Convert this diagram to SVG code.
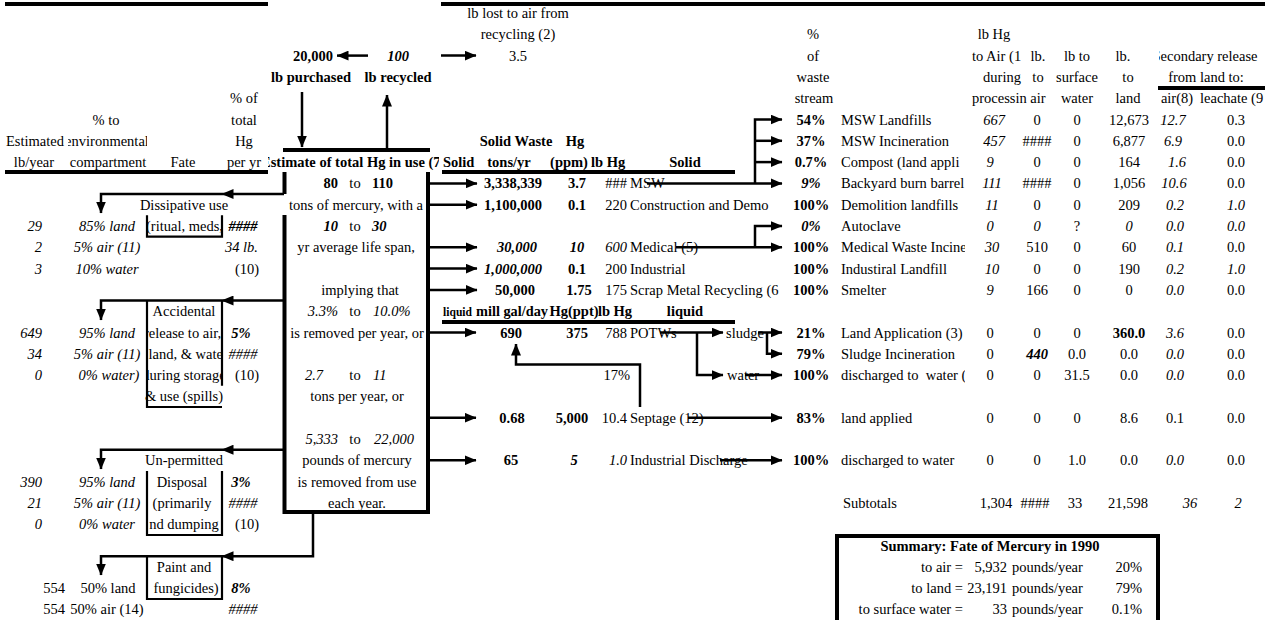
<svg xmlns="http://www.w3.org/2000/svg" width="1265" height="620" viewBox="0 0 1265 620">
<style>
text{font-family:"Liberation Serif","Times New Roman",serif;font-size:14.5px;fill:#000}
.b{font-weight:bold}
.i{font-style:italic}
.m{text-anchor:middle}
.e{text-anchor:end}
.rule{stroke:#000;stroke-width:4;fill:none}
.box{stroke:#000;stroke-width:2.2;fill:none}
.c{stroke:#000;stroke-width:2.5;fill:none}
.a{marker-end:url(#ah)}
</style>
<defs>
<marker id="ah" markerUnits="userSpaceOnUse" markerWidth="12" markerHeight="10" refX="11.5" refY="5" orient="auto"><path d="M0,0 L12,5 L0,10 z" fill="#000"/></marker>
<clipPath id="cpHdr"><rect x="268" y="150" width="171" height="22"/></clipPath>
<clipPath id="cpEnv"><rect x="68" y="130" width="79" height="22"/></clipPath>
<clipPath id="cpFate"><rect x="148" y="200" width="73.5" height="400"/></clipPath>
<clipPath id="cpName"><rect x="835" y="100" width="130" height="300"/></clipPath>
<clipPath id="cpSec"><rect x="1159" y="40" width="110" height="30"/></clipPath>
<clipPath id="cpScrap"><rect x="625" y="270" width="163" height="30"/></clipPath>
</defs>

<g id="rules">
<path class="rule" d="M5,4 H268 M441,4 H1265 M283,150 H430 M5,172 H268 M442,172 H735 M442,322 H735 M1158,88 H1265"/>
</g>

<g id="left-headers">
<text class="m" x="244" y="103.2">% of</text>
<text class="m" x="106" y="124.5">% to</text>
<text class="m" x="244" y="124.5">total</text>
<text class="m" x="35" y="145.8">Estimated</text>
<text class="m" x="107" y="145.8" clip-path="url(#cpEnv)">environmental</text>
<text class="m" x="244" y="145.8">Hg</text>
<text class="m" x="34" y="167.1">lb/year</text>
<text class="m" x="108" y="167.1">compartment</text>
<text class="m" x="183" y="167.1">Fate</text>
<text class="m" x="244" y="167.1">per yr</text>
</g>

<g id="fate-dissipative">
<path class="box" d="M147,215.3 V236.6 H222 V215.3"/>
<text class="m" x="184" y="209.7">Dissipative use</text>
<text x="146" y="231" clip-path="url(#cpFate)">(ritual, meds,</text>
<text class="e i" x="42" y="231">29</text>
<text class="m i" x="107" y="231">85% land</text>
<text class="m b i" x="243" y="231">####</text>
<text class="e i" x="42" y="252.3">2</text>
<text class="m i" x="107" y="252.3">5% air (11)</text>
<text class="e i" x="258" y="252.3">34 lb.</text>
<text class="e i" x="42" y="273.6">3</text>
<text class="m i" x="107" y="273.6">10% water</text>
<text class="m" x="247" y="273.6">(10)</text>
</g>

<g id="fate-accidental">
<path class="box" d="M147,300.5 V407 H222 M222,300.5 V385.8"/>
<text class="m" x="184" y="316.2">Accidental</text>
<text class="e i" x="42" y="337.5">649</text>
<text class="m i" x="107" y="337.5">95% land</text>
<text x="144" y="337.5" clip-path="url(#cpFate)">release to air,</text>
<text class="m b i" x="241" y="337.5">5%</text>
<text class="e i" x="42" y="358.8">34</text>
<text class="m i" x="107" y="358.8">5% air (11)</text>
<text x="148.5" y="358.8" clip-path="url(#cpFate)">land, &amp; water</text>
<text class="m i" x="243" y="358.8">####</text>
<text class="e i" x="42" y="380.1">0</text>
<text class="m i" x="109" y="380.1">0% water)</text>
<text class="m" x="184" y="380.1" clip-path="url(#cpFate)">during storage</text>
<text class="m" x="247" y="380.1">(10)</text>
<text class="m" x="184" y="401.4">&amp; use (spills)</text>
</g>

<g id="fate-unpermitted">
<path class="box" d="M147,471 V535 H222 V471"/>
<text class="m" x="184" y="465.3">Un-permitted</text>
<text class="e i" x="42" y="486.6">390</text>
<text class="m i" x="107" y="486.6">95% land</text>
<text class="m" x="182" y="486.6">Disposal</text>
<text class="m b i" x="241" y="486.6">3%</text>
<text class="e i" x="42" y="507.9">21</text>
<text class="m i" x="107" y="507.9">5% air (11)</text>
<text class="m" x="182" y="507.9">(primarily</text>
<text class="m i" x="243" y="507.9">####</text>
<text class="e i" x="42" y="529.2">0</text>
<text class="m i" x="107" y="529.2">0% water</text>
<text class="m" x="184" y="529.2">nd dumping</text>
<text class="m" x="247" y="529.2">(10)</text>
</g>

<g id="fate-paint">
<path class="box" d="M147,556.2 V599 H222 V556.2"/>
<text class="m" x="184" y="571.8">Paint and</text>
<text class="e" x="65" y="593.1">554</text>
<text class="m" x="108" y="593.1">50% land</text>
<text class="m" x="186" y="593.1">fungicides)</text>
<text class="m b i" x="241" y="593.1">8%</text>
<text class="e" x="65" y="614.4">554</text>
<text class="m" x="107" y="614.4">50% air (14)</text>
<text class="m i" x="243" y="614.4">####</text>
</g>

<g id="hg-in-use">
<path class="rule" d="M284.5,172 V194 M284.5,215 V512 H428 V172"/>
<text class="b" x="261" y="167.1" clip-path="url(#cpHdr)">Estimate of total Hg in use (7</text>
<text class="b e" x="338" y="188.4">80</text><text class="m" x="355" y="188.4">to</text><text class="b" x="372" y="188.4">110</text>
<text class="m" x="356" y="209.7">tons of mercury, with a</text>
<text class="b i e" x="338" y="231">10</text><text class="m" x="355" y="231">to</text><text class="b i" x="372" y="231">30</text>
<text class="m" x="356" y="252.3">yr average life span,</text>
<text class="m" x="360" y="294.9">implying that</text>
<text class="i e" x="338" y="316.2">3.3%</text><text class="m" x="355" y="316.2">to</text><text class="i" x="373" y="316.2">10.0%</text>
<text class="m" x="357" y="337.5">is removed per year, or</text>
<text class="i e" x="323" y="380.1">2.7</text><text class="m" x="355" y="380.1">to</text><text class="i" x="373" y="380.1">11</text>
<text class="m" x="357" y="401.4">tons per year, or</text>
<text class="i e" x="338" y="444">5,333</text><text class="m" x="355" y="444">to</text><text class="i" x="374" y="444">22,000</text>
<text class="m" x="357" y="465.3">pounds of mercury</text>
<text class="m" x="357" y="486.6">is removed from use</text>
<text class="m" x="357" y="507.9">each year.</text>
</g>

<g id="purchase-recycle">
<text class="b m" x="313" y="60.6">20,000</text>
<text class="b i m" x="398" y="60.6">100</text>
<text class="b m" x="311" y="81.9">lb purchased</text>
<text class="b m" x="398" y="81.9">lb recycled</text>
<text class="m" x="518" y="18">lb lost to air from</text>
<text class="m" x="518" y="39.3">recycling (2)</text>
<text class="m" x="518" y="60.6">3.5</text>
</g>

<g id="solid-waste">
<text class="b m" x="516" y="145.8">Solid Waste</text>
<text class="b m" x="575" y="145.8">Hg</text>
<text class="b" x="443" y="167.1">Solid</text>
<text class="b m" x="509" y="167.1">tons/yr</text>
<text class="b m" x="569" y="167.1">(ppm)</text>
<text class="b" x="591" y="167.1">lb Hg</text>
<text class="b m" x="685" y="167.1">Solid</text>
<text class="b m" x="513" y="188.4">3,338,339</text><text class="b m" x="577" y="188.4">3.7</text><text class="e" x="627" y="188.4">###</text><text x="630" y="188.4">MSW</text>
<text class="b m" x="513" y="209.7">1,100,000</text><text class="b m" x="577" y="209.7">0.1</text><text class="e" x="627" y="209.7">220</text><text x="630" y="209.7">Construction and Demo</text>
<text class="b i m" x="517" y="252.3">30,000</text><text class="b i m" x="577" y="252.3">10</text><text class="i e" x="627" y="252.3">600</text><text x="630" y="252.3">Medical (5)</text>
<text class="b i m" x="513" y="273.6">1,000,000</text><text class="b m" x="577" y="273.6">0.1</text><text class="e" x="627" y="273.6">200</text><text x="630" y="273.6">Industrial</text>
<text class="b m" x="515" y="294.9">50,000</text><text class="b m" x="579" y="294.9">1.75</text><text class="e" x="627" y="294.9">175</text><text x="630" y="294.9" clip-path="url(#cpScrap)">Scrap Metal Recycling (6</text>
</g>

<g id="liquid-waste">
<text class="b" x="443" y="316.2" style="font-size:12.5px" textLength="29" lengthAdjust="spacingAndGlyphs">liquid</text>
<text class="b" x="476" y="316.2" textLength="72" lengthAdjust="spacingAndGlyphs">mill gal/day</text>
<text class="b m" x="574" y="316.2">Hg(ppt)</text>
<text class="b m" x="615" y="316.2">lb Hg</text>
<text class="b m" x="685" y="316.2">liquid</text>
<text class="b m" x="511" y="337.5">690</text><text class="b m" x="577" y="337.5">375</text><text class="e" x="627" y="337.5">788</text><text x="630" y="337.5">POTWs</text><text x="726" y="337.5">sludge</text>
<text class="e" x="630" y="380.1">17%</text><text x="727" y="380.1">water</text>
<text class="b m" x="512" y="422.7">0.68</text><text class="b m" x="572" y="422.7">5,000</text><text class="e" x="627" y="422.7">10.4</text><text x="630" y="422.7">Septage (12)</text>
<text class="b m" x="511" y="465.3">65</text><text class="b i m" x="574" y="465.3">5</text><text class="i e" x="627" y="465.3">1.0</text><text x="630" y="465.3">Industrial Discharge</text>
</g>

<g id="disposal-table">
<text class="m" x="813" y="39.3">%</text>
<text class="m" x="994" y="39.3">lb Hg</text>
<text class="m" x="813" y="60.6">of</text>
<text x="972" y="60.6">to Air (1</text>
<text class="m" x="1038" y="60.6">lb.</text>
<text class="m" x="1077" y="60.6">lb to</text>
<text class="m" x="1123" y="60.6">lb.</text>
<text class="m" x="1205" y="60.6" clip-path="url(#cpSec)">Secondary release</text>
<text class="m" x="813" y="81.9">waste</text>
<text class="m" x="1002" y="81.9">during</text>
<text class="m" x="1038" y="81.9">to</text>
<text class="m" x="1077" y="81.9">surface</text>
<text class="m" x="1128" y="81.9">to</text>
<text class="m" x="1206" y="81.9">from land to:</text>
<text class="m" x="814" y="103.2">stream</text>
<text x="972" y="103.2">processin</text>
<text class="m" x="1038" y="103.2">air</text>
<text class="m" x="1077" y="103.2">water</text>
<text class="m" x="1128" y="103.2">land</text>
<text class="m" x="1177" y="103.2">air(8)</text>
<text x="1200" y="103.2">leachate (9</text>

<g id="row-msw-landfills"><text class="b m" x="811" y="124.5">54%</text><text x="841" y="124.5">MSW Landfills</text><text class="i m" x="994" y="124.5">667</text><text class="m" x="1037" y="124.5">0</text><text class="m" x="1077" y="124.5">0</text><text class="m" x="1129" y="124.5">12,673</text><text class="i m" x="1173" y="124.5">12.7</text><text class="m" x="1236" y="124.5">0.3</text></g>
<g id="row-msw-incineration"><text class="b m" x="811" y="145.8">37%</text><text x="841" y="145.8">MSW Incineration</text><text class="i m" x="994" y="145.8">457</text><text class="m" x="1037" y="145.8">####</text><text class="m" x="1077" y="145.8">0</text><text class="m" x="1129" y="145.8">6,877</text><text class="i m" x="1173" y="145.8">6.9</text><text class="m" x="1236" y="145.8">0.0</text></g>
<g id="row-compost"><text class="b m" x="811" y="167.1">0.7%</text><text x="841" y="167.1" clip-path="url(#cpName)">Compost (land appli</text><text class="i m" x="990" y="167.1">9</text><text class="m" x="1037" y="167.1">0</text><text class="m" x="1077" y="167.1">0</text><text class="m" x="1129" y="167.1">164</text><text class="i m" x="1177" y="167.1">1.6</text><text class="m" x="1236" y="167.1">0.0</text></g>
<g id="row-backyard"><text class="b i m" x="811" y="188.4">9%</text><text x="841" y="188.4" clip-path="url(#cpName)">Backyard burn barrel</text><text class="i m" x="992" y="188.4">111</text><text class="m" x="1037" y="188.4">####</text><text class="m" x="1077" y="188.4">0</text><text class="m" x="1129" y="188.4">1,056</text><text class="i m" x="1174" y="188.4">10.6</text><text class="m" x="1236" y="188.4">0.0</text></g>
<g id="row-demolition"><text class="b m" x="811" y="209.7">100%</text><text x="841" y="209.7">Demolition landfills</text><text class="i m" x="992" y="209.7">11</text><text class="m" x="1037" y="209.7">0</text><text class="m" x="1077" y="209.7">0</text><text class="m" x="1129" y="209.7">209</text><text class="i m" x="1175" y="209.7">0.2</text><text class="i m" x="1236" y="209.7">1.0</text></g>
<g id="row-autoclave"><text class="b i m" x="811" y="231">0%</text><text x="841" y="231">Autoclave</text><text class="i m" x="990" y="231">0</text><text class="i m" x="1037" y="231">0</text><text class="m" x="1077" y="231">?</text><text class="i m" x="1129" y="231">0</text><text class="i m" x="1175" y="231">0.0</text><text class="i m" x="1236" y="231">0.0</text></g>
<g id="row-medical-inc"><text class="b m" x="811" y="252.3">100%</text><text x="841" y="252.3" clip-path="url(#cpName)">Medical Waste Incine</text><text class="i m" x="992" y="252.3">30</text><text class="m" x="1037" y="252.3">510</text><text class="m" x="1077" y="252.3">0</text><text class="m" x="1129" y="252.3">60</text><text class="i m" x="1175" y="252.3">0.1</text><text class="m" x="1236" y="252.3">0.0</text></g>
<g id="row-ind-landfill"><text class="b m" x="811" y="273.6">100%</text><text x="841" y="273.6">Industiral Landfill</text><text class="i m" x="992" y="273.6">10</text><text class="m" x="1037" y="273.6">0</text><text class="m" x="1077" y="273.6">0</text><text class="m" x="1129" y="273.6">190</text><text class="i m" x="1175" y="273.6">0.2</text><text class="i m" x="1236" y="273.6">1.0</text></g>
<g id="row-smelter"><text class="b m" x="811" y="294.9">100%</text><text x="841" y="294.9">Smelter</text><text class="i m" x="990" y="294.9">9</text><text class="m" x="1037" y="294.9">166</text><text class="m" x="1077" y="294.9">0</text><text class="m" x="1129" y="294.9">0</text><text class="i m" x="1175" y="294.9">0.0</text><text class="m" x="1236" y="294.9">0.0</text></g>
<g id="row-land-app"><text class="b m" x="811" y="337.5">21%</text><text x="841" y="337.5">Land Application (3)</text><text class="m" x="990" y="337.5">0</text><text class="m" x="1037" y="337.5">0</text><text class="m" x="1077" y="337.5">0</text><text class="b m" x="1129" y="337.5">360.0</text><text class="i m" x="1175" y="337.5">3.6</text><text class="m" x="1236" y="337.5">0.0</text></g>
<g id="row-sludge-inc"><text class="b m" x="811" y="358.8">79%</text><text x="841" y="358.8">Sludge Incineration</text><text class="m" x="990" y="358.8">0</text><text class="b i m" x="1037" y="358.8">440</text><text class="m" x="1077" y="358.8">0.0</text><text class="m" x="1129" y="358.8">0.0</text><text class="i m" x="1175" y="358.8">0.0</text><text class="m" x="1236" y="358.8">0.0</text></g>
<g id="row-discharged-potw"><text class="b m" x="811" y="380.1">100%</text><text x="841" y="380.1" clip-path="url(#cpName)" xml:space="preserve">discharged to  water (</text><text class="m" x="990" y="380.1">0</text><text class="m" x="1037" y="380.1">0</text><text class="m" x="1077" y="380.1">31.5</text><text class="m" x="1129" y="380.1">0.0</text><text class="i m" x="1175" y="380.1">0.0</text><text class="m" x="1236" y="380.1">0.0</text></g>
<g id="row-land-applied"><text class="b m" x="811" y="422.7">83%</text><text x="841" y="422.7">land applied</text><text class="m" x="990" y="422.7">0</text><text class="m" x="1037" y="422.7">0</text><text class="m" x="1077" y="422.7">0</text><text class="m" x="1129" y="422.7">8.6</text><text class="m" x="1175" y="422.7">0.1</text><text class="m" x="1236" y="422.7">0.0</text></g>
<g id="row-discharged-ind"><text class="b m" x="811" y="465.3">100%</text><text x="841" y="465.3">discharged to water</text><text class="m" x="990" y="465.3">0</text><text class="m" x="1037" y="465.3">0</text><text class="m" x="1077" y="465.3">1.0</text><text class="m" x="1129" y="465.3">0.0</text><text class="i m" x="1175" y="465.3">0.0</text><text class="m" x="1236" y="465.3">0.0</text></g>
<g id="row-subtotals"><text x="843" y="507.9">Subtotals</text><text class="m" x="996" y="507.9">1,304</text><text class="m" x="1035" y="507.9">####</text><text class="m" x="1075" y="507.9">33</text><text class="m" x="1128" y="507.9">21,598</text><text class="i m" x="1190" y="507.9">36</text><text class="i m" x="1238" y="507.9">2</text></g>
</g>

<g id="summary">
<rect class="rule" x="837" y="536" width="321" height="100"/>
<text class="b m" x="990" y="550.5">Summary: Fate of Mercury in 1990</text>
<text class="e" x="963" y="571.8">to air =</text><text class="e" x="1007" y="571.8">5,932</text><text x="1012" y="571.8">pounds/year</text><text class="e" x="1142" y="571.8">20%</text>
<text class="e" x="963" y="593.1">to land =</text><text class="e" x="1007" y="593.1">23,191</text><text x="1012" y="593.1">pounds/year</text><text class="e" x="1142" y="593.1">79%</text>
<text class="e" x="963" y="614.4">to surface water =</text><text class="e" x="1007" y="614.4">33</text><text x="1012" y="614.4">pounds/year</text><text class="e" x="1142" y="614.4">0.1%</text>
</g>

<g id="connectors">
<path class="c a" d="M284,194 H222"/>
<path class="c a" d="M222,194 H101 V213"/>
<path class="c a" d="M284,300.5 H222"/>
<path class="c a" d="M222,300.5 H101 V320"/>
<path class="c a" d="M284,449.7 H222"/>
<path class="c a" d="M222,449.7 H101 V469"/>
<path class="c a" d="M313,512 V556.2 H222"/>
<path class="c a" d="M222,556.2 H101 V575"/>
<path class="c a" d="M302,92 V147"/>
<path class="c a" d="M387,148 V95"/>
<path class="c a" d="M368,55.6 H337"/>
<path class="c a" d="M441,55.6 H476"/>
<path class="c a" d="M430,183.4 H477"/>
<path class="c a" d="M430,204.7 H477"/>
<path class="c a" d="M430,247.3 H477"/>
<path class="c a" d="M430,268.6 H477"/>
<path class="c a" d="M430,289.9 H477"/>
<path class="c a" d="M430,332.5 H476"/>
<path class="c a" d="M430,417.7 H476"/>
<path class="c a" d="M430,460.3 H476"/>
<path class="c a" d="M647,183.4 H782"/>
<path class="c a" d="M755,183.4 V119.5 H782"/>
<path class="c a" d="M755,140.8 H782"/>
<path class="c a" d="M755,162.1 H782"/>
<path class="c a" d="M676,247.3 H782"/>
<path class="c a" d="M755,247.3 V226 H782"/>
<path class="c a" d="M660,332.5 H723"/>
<path class="c a" d="M697,332.5 V375.1 H723"/>
<path class="c a" d="M758,332.5 H782"/>
<path class="c a" d="M767,332.5 V353.8 H782"/>
<path class="c a" d="M745,375.1 H782"/>
<path class="c a" d="M688,417.7 H782"/>
<path class="c a" d="M640,407 V364.5 H516 V344"/>
<path class="c a" d="M720,460.3 H782"/>
</g>
</svg>
